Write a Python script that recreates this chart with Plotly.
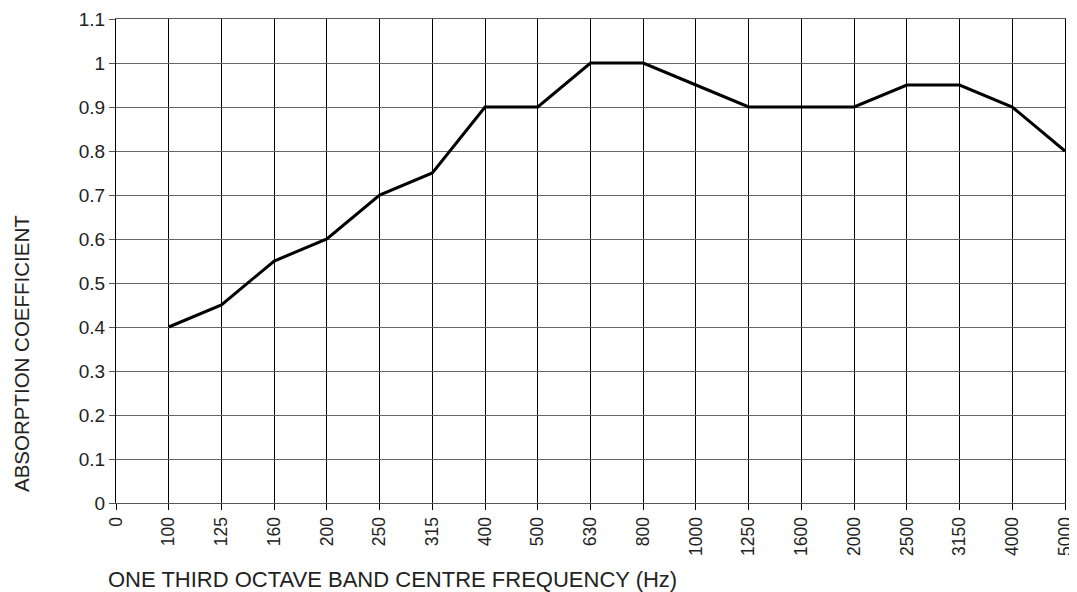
import plotly.graph_objects as go

categories = ["0", "100", "125", "160", "200", "250", "315", "400", "500", "630",
              "800", "1000", "1250", "1600", "2000", "2500", "3150", "4000", "5000"]
freqs = ["100", "125", "160", "200", "250", "315", "400", "500", "630",
         "800", "1000", "1250", "1600", "2000", "2500", "3150", "4000", "5000"]
absorption = [0.4, 0.45, 0.55, 0.6, 0.7, 0.75, 0.9, 0.9, 1.0,
              1.0, 0.95, 0.9, 0.9, 0.9, 0.95, 0.95, 0.9, 0.8]
y_ticks = [0, 0.1, 0.2, 0.3, 0.4, 0.5, 0.6, 0.7, 0.8, 0.9, 1.0, 1.1]
y_ticktext = ["0", "0.1", "0.2", "0.3", "0.4", "0.5", "0.6", "0.7", "0.8", "0.9", "1", "1.1"]

font = "Liberation Sans, Arial, sans-serif"

fig = go.Figure()
fig.add_trace(go.Scatter(x=freqs, y=absorption, mode="lines",
                         line=dict(color="black", width=3), showlegend=False))

fig.update_xaxes(type="category", categoryorder="array", categoryarray=categories,
                 range=[0, len(categories) - 1], tickangle=-90, automargin=False,
                 showgrid=True, gridcolor="black", gridwidth=1,
                 ticks="outside", ticklen=6, tickcolor="black",
                 showline=True, linecolor="#555", linewidth=1, mirror=True,
                 tickfont=dict(family=font, size=17.5, color="#222"))
fig.update_yaxes(range=[0, 1.1], tickvals=y_ticks, ticktext=y_ticktext, automargin=False,
                 showgrid=True, gridcolor="#666", gridwidth=1,
                 ticks="outside", ticklen=6, tickcolor="#555",
                 showline=True, linecolor="black", linewidth=1, mirror=True,
                 zeroline=False,
                 tickfont=dict(family=font, size=19, color="#222"))

fig.add_annotation(text="ONE THIRD OCTAVE BAND CENTRE FREQUENCY (Hz)",
                   xref="paper", yref="paper", x=0, y=0, xanchor="left", yanchor="middle",
                   yshift=-76, xshift=-10, showarrow=False,
                   font=dict(family=font, size=22, color="#222"))
fig.add_annotation(text="ABSORPTION COEFFICIENT", textangle=-90,
                   xref="paper", yref="paper", x=0, y=0.5, xanchor="center", yanchor="middle",
                   xshift=-95, yshift=-93, showarrow=False,
                   font=dict(family=font, size=20.5, color="#222"))

# page body has an 8px margin, so the figure is sized to fit the 1077x592 window
fig.update_layout(width=1069, height=584, plot_bgcolor="white", paper_bgcolor="white",
                  margin=dict(l=108, r=12, t=11, b=89))

fig.write_html("out.html")
